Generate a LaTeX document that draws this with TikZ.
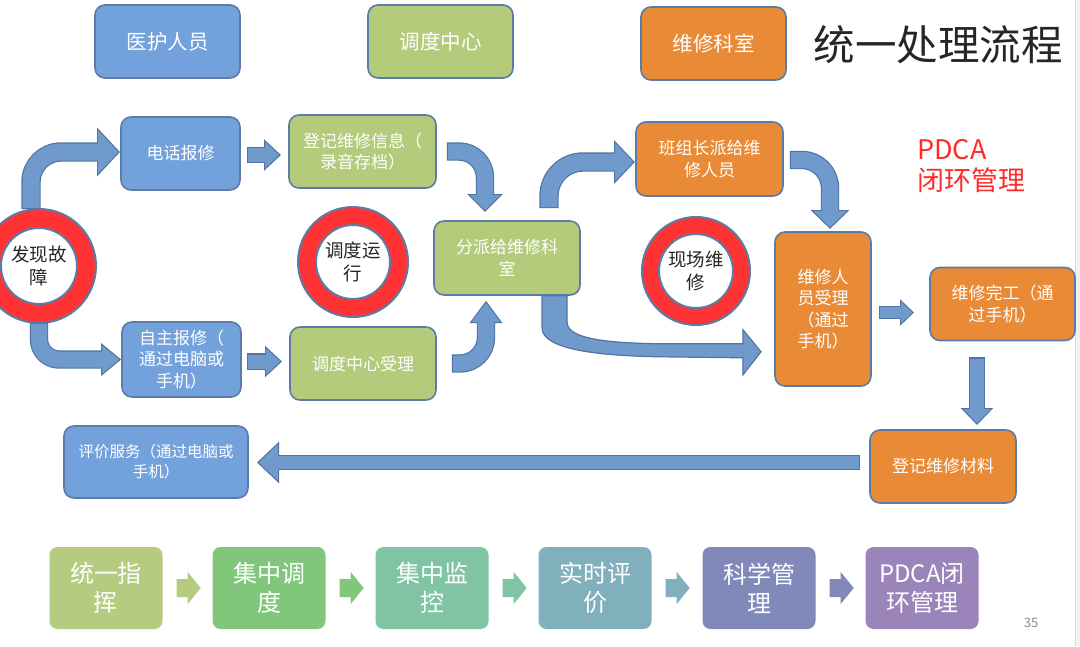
\documentclass[tikz,border=0pt]{standalone}
\usepackage{fontspec}
\setmainfont{Noto Sans CJK SC}
\usetikzlibrary{calc}
\definecolor{bxbd}{HTML}{5B7CA6}
\definecolor{bluef}{HTML}{72A1DC}
\definecolor{greenf}{HTML}{B3CB7B}
\definecolor{orangef}{HTML}{E98B36}
\definecolor{arrf}{HTML}{6F9ACB}
\definecolor{arrbd}{HTML}{5075A4}
\definecolor{ringred}{HTML}{FF3333}
\definecolor{cA}{HTML}{B5CB7F}
\definecolor{cB}{HTML}{80C67B}
\definecolor{cC}{HTML}{80C4A4}
\definecolor{cD}{HTML}{80B0BC}
\definecolor{cE}{HTML}{8189BB}
\definecolor{cF}{HTML}{9B84BA}
\definecolor{pdcared}{HTML}{FF2B2B}
% block arrow: #1 shaft width, #2 path ending at tip, #3 tip coordinate, #4 angle, #5 head length, #6 head width
\newcommand\barrow[6]{%
  \draw[draw=arrbd, line width=#1pt+2.4pt, shorten >=#5pt-1pt] #2;
  \filldraw[fill=arrbd, draw=arrbd, line width=2.4pt, line join=miter, shift={(#3)}, rotate=#4] (0,0) -- (-#5,#6/2) -- (-#5,-#6/2) -- cycle;
  \draw[draw=arrf, line width=#1pt, shorten >=#5pt-1.5pt, shorten <=1.2pt] #2;
  \fill[arrf, shift={(#3)}, rotate=#4] (0,0) -- (-#5,#6/2) -- (-#5,-#6/2) -- cycle;
}
\begin{document}
\begin{tikzpicture}[x=1pt, y=-1pt,
  box/.style={draw=bxbd, line width=1.6pt, rounded corners=10pt, text=white, align=center, inner sep=2pt, font=\fontsize{17}{21.5}\selectfont},
  bluebox/.style={box, fill=bluef},
  greenbox/.style={box, fill=greenf},
  orangebox/.style={box, fill=orangef},
  legend/.style={box, minimum width=145pt, minimum height=73pt, font=\fontsize{20.5}{24}\selectfont},
  ring/.style={circle, fill=ringred, draw=bxbd, line width=2pt, inner sep=0pt},
  hole/.style={circle, fill=white, draw=bxbd, line width=2pt, inner sep=0pt, align=center, text=black!85, font=\fontsize{18.5}{23}\selectfont},
  stepbox/.style={rounded corners=8pt, text=white, align=center, inner sep=0pt, minimum width=113pt, minimum height=82pt, font=\fontsize{24}{29}\selectfont}
]
\useasboundingbox (0,0) rectangle (1080,646);
\fill[white] (0,0) rectangle (1080,646);
\fill[black!5] (1075,0) rectangle (1080,646);
\draw[black!15, line width=0.8pt] (1075,0) -- (1075,646);

% legend
\node[legend, fill=bluef] (L1) at (167.5,41.5) {医护人员};
\node[legend, fill=greenf] (L2) at (440.5,41.5) {调度中心};
\node[legend, fill=orangef] (L3) at (713.5,43.5) {维修科室};
\node[text=black!85, font=\fontsize{41.5}{45}\selectfont, inner sep=0pt] (title) at (938,45) {统一处理流程};

% main boxes
\node[bluebox, minimum width=119pt, minimum height=73pt] (b1) at (180.5,153.5) {电话报修};
\node[greenbox, minimum width=147pt, minimum height=73pt] (g1) at (362.5,151.5) {登记维修信息（\\录音存档）};
\node[orangebox, minimum width=147pt, minimum height=74pt] (o1) at (709.5,159) {班组长派给维\\修人员};
\node[text=pdcared, align=left, anchor=west, inner sep=0pt, font=\fontsize{27}{31}\selectfont] (pdca) at (917,166) {PDCA\\闭环管理};

\node[greenbox, minimum width=146pt, minimum height=74pt] (g2) at (507,258) {分派给维修科\\室};
\node[bluebox, minimum width=119pt, minimum height=75pt] (b2) at (181.5,359.5) {自主报修（\\通过电脑或\\手机）};
\node[greenbox, minimum width=146pt, minimum height=73pt] (g3) at (363,363.5) {调度中心受理};
\node[orangebox, minimum width=96pt, minimum height=154pt] (o2) at (823,309) {维修人\\员受理\\（通过\\手机）};
\node[orangebox, minimum width=145pt, minimum height=73pt] (o3) at (1002.5,304) {维修完工（通\\过手机）};
\node[orangebox, minimum width=146pt, minimum height=73pt] (o4) at (943,466.5) {登记维修材料};
\node[bluebox, minimum width=184pt, minimum height=72pt, font=\fontsize{15.5}{20}\selectfont] (b3) at (156,462) {评价服务（通过电脑或\\手机）};

% rings
\node[ring, minimum size=114pt] (f1) at (39,266) {};
\node[hole, minimum size=76pt] (f1t) at (f1) {发现故\\障};
\node[ring, minimum size=110pt] (f2) at (353,262) {};
\node[hole, minimum size=74pt] (f2t) at (f2) {调度运\\行};
\node[ring, minimum size=108pt] (f3) at (696,271) {};
\node[hole, minimum size=74pt] (f3t) at (f3) {现场维\\修};

% arrow coordinates
\coordinate (a1s) at ($(f1.north)+(-8,1)$);
\coordinate (a1t) at ($(b1.west)+(-2,-1.5)$);
\coordinate (a2s) at ($(f1.south)+(0,-1)$);
\coordinate (a2t) at ($(b2.west)+(-2,0)$);
\coordinate (a3s) at ($(b1.east)+(6,1.5)$);
\coordinate (a3t) at ($(a3s -| g1.west)+(-9,0)$);
\coordinate (a4s) at ($(b2.east)+(5,2)$);
\coordinate (a4t) at ($(a4s -| g3.west)+(-9,0)$);
\coordinate (a5s) at ($(g1.east)+(10,0)$);
\coordinate (a5t) at ($(g2.north)+(-22,-10)$);
\coordinate (a6s) at ($(g3.east)+(15,0)$);
\coordinate (a6t) at ($(g2.south)+(-21,7)$);
\coordinate (a7s) at ($(g2.north)+(42,-12)$);
\coordinate (a7t) at ($(o1.west)+(-2,3)$);
\coordinate (a8s) at ($(g2.south)+(35,0)$);
\coordinate (a9s) at ($(o1.east)+(6,1)$);
\coordinate (a9t) at ($(o2.north)+(7,-4)$);
\coordinate (a10s) at ($(o2.east)+(7,3.5)$);
\coordinate (a10t) at ($(a10s -| o3.west)+(-17,0)$);
\coordinate (a11s) at ($(o3.south)+(-25.5,16)$);
\coordinate (a11t) at ($(a11s |- o4.north)+(0,-6)$);
\coordinate (a12s) at ($(o4.west)+(-9,-4)$);
\coordinate (a12t) at ($(a12s -| b3.east)+(10,0)$);

% block arrows
\barrow{17}{[rounded corners=30pt] (a1s) -- (a1s |- a1t) -- (a1t)}{a1t}{0}{20}{43}
\barrow{16}{[rounded corners=20pt] (a2s) -- (a2s |- a2t) -- (a2t)}{a2t}{0}{17}{28}
\barrow{14}{(a3s) -- (a3t)}{a3t}{0}{14}{26}
\barrow{14}{(a4s) -- (a4t)}{a4t}{0}{14}{26}
\barrow{16}{[rounded corners=26pt] (a5s) -- (a5s -| a5t) -- (a5t)}{a5t}{-90}{15}{30}
\barrow{16}{[rounded corners=26pt] (a6s) -- (a6s -| a6t) -- (a6t)}{a6t}{90}{19}{28}
\barrow{17}{[rounded corners=34pt] (a7s) -- (a7s |- a7t) -- (a7t)}{a7t}{0}{18}{38}
\barrow{16}{[rounded corners=28pt] (a9s) -- (a9s -| a9t) -- (a9t)}{a9t}{-90}{16}{33}
\barrow{11}{(a10s) -- (a10t)}{a10t}{0}{11}{21}
\barrow{14}{(a11s) -- (a11t)}{a11t}{-90}{14}{27}
\barrow{13}{(a12s) -- (a12t)}{a12t}{180}{19}{36}
\filldraw[fill=arrf, draw=arrbd, line width=1.2pt, line join=miter, shift={(a8s)}]
  (0,0) -- (0,32) .. controls (0,54) and (58,60) .. (118,61) -- (201,62) -- (201,79) -- (219,56)
  -- (201,34) -- (201,48) -- (118,48) .. controls (58,47) and (25,42) .. (25,26) -- (25,0) -- cycle;

% bottom row
\node[stepbox, fill=cA] (s1) at (106,588) {统一指\\挥};
\node[stepbox, fill=cB] (s2) at (269,588) {集中调\\度};
\node[stepbox, fill=cC] (s3) at (432,588) {集中监\\控};
\node[stepbox, fill=cD] (s4) at (595,588) {实时评\\价};
\node[stepbox, fill=cE] (s5) at (759,588) {科学管\\理};
\node[stepbox, fill=cF] (s6) at (922,588) {PDCA闭\\环管理};
\foreach \p/\c in {s1/cA, s2/cB, s3/cC, s4/cD, s5/cE}{
  \fill[\c, shift={($(\p.east)+(14,0)$)}] (0,-9) -- (11,-9) -- (11,-16) -- (24,0) -- (11,16) -- (11,9) -- (0,9) -- cycle;
}
\node[text=black!45, font=\fontsize{13}{15}\selectfont, inner sep=0pt] (pg) at (1031,623) {35};
\end{tikzpicture}
\end{document}
